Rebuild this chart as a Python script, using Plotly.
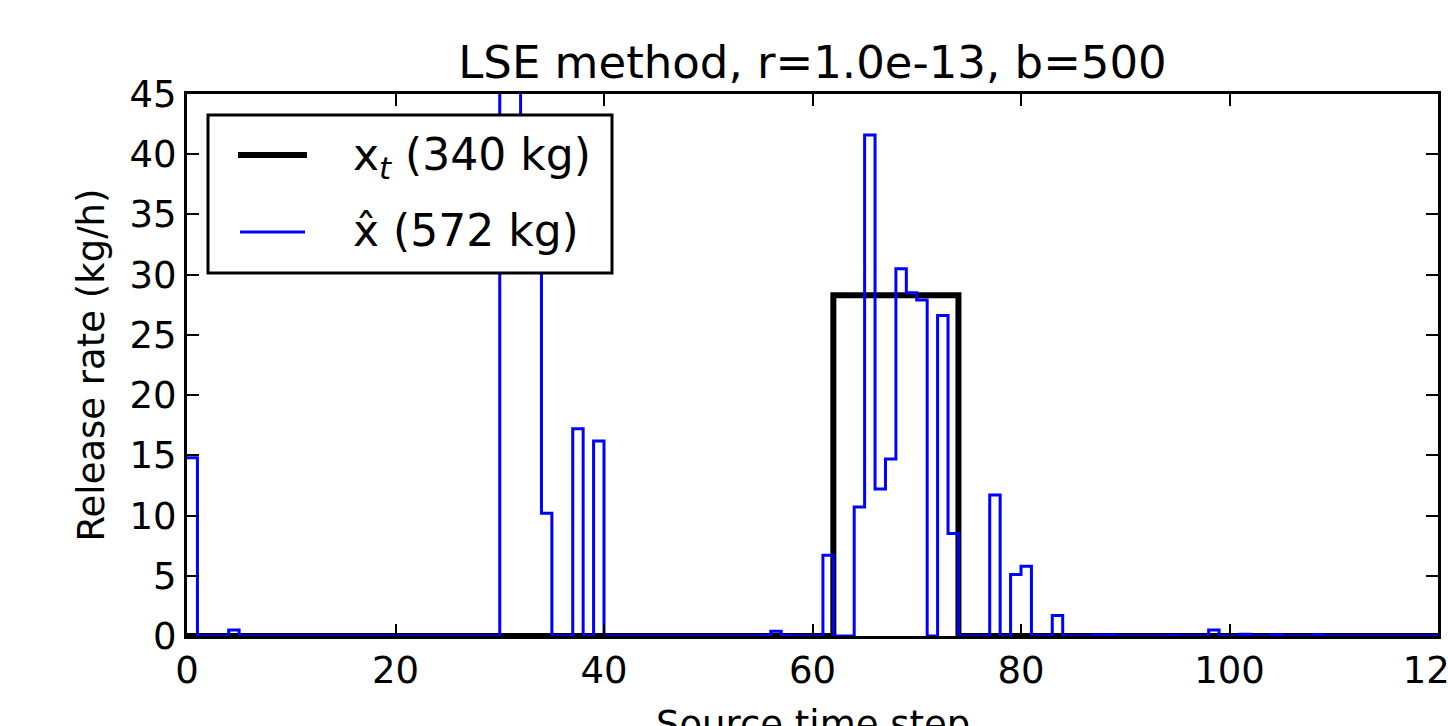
import plotly.graph_objects as go

# ---------------- data ----------------
steps = list(range(121))  # source time step edges 0..120

# true release x_t (kg/h), per time step 0..119
x_true = [0.0] * 62 + [28.3] * 12 + [0.0] * 46

# estimated release x-hat (kg/h), per time step 0..119
x_hat = [
    14.8, 0, 0, 0, 0.5, 0, 0, 0, 0, 0,            # 0-9
    0, 0, 0, 0, 0, 0, 0, 0, 0, 0,                 # 10-19
    0, 0, 0, 0, 0, 0, 0, 0, 0, 0,                 # 20-29
    102.7, 102.7, 37.0, 37.0, 10.2, 0, 0, 17.2, 0, 16.2,   # 30-39
    0, 0, 0, 0, 0, 0, 0, 0, 0, 0,                 # 40-49
    0, 0, 0, 0, 0, 0.05, 0.4, 0.05, 0, 0,         # 50-59
    0, 6.7, 0, 0, 10.7, 41.6, 12.2, 14.7, 30.5, 28.5,      # 60-69
    27.9, 0, 26.6, 8.5, 0, 0, 0, 11.7, 0, 5.1,    # 70-79
    5.8, 0, 0, 1.7, 0, 0, 0, 0.08, 0.08, 0,       # 80-89
    0, 0, 0, 0, 0.05, 0, 0, 0, 0.5, 0,            # 90-99
    0, 0.15, 0, 0, 0.1, 0, 0, 0, 0.1, 0,          # 100-109
    0, 0, 0, 0, 0, 0, 0, 0, 0, 0,                 # 110-119
]

title_text = "LSE method, r=1.0e-13, b=500"
x_title = "Source time step"
y_title = "Release rate (kg/h)"
legend_labels = ["x<sub><i>t</i></sub> (340 kg)", "x\u0302 (572 kg)"]
x_ticks = [0, 20, 40, 60, 80, 100, 120]
y_ticks = [0, 5, 10, 15, 20, 25, 30, 35, 40, 45]

# ---------------- layout geometry (pixels) ----------------
W, H = 1448, 726
L, R, T, B = 187, 1438, 94, 636
FONT = "DejaVu Sans"


def px(xp):
    return (xp - L) / (R - L)


def py(yp):
    return (B - yp) / (B - T)


fig = go.Figure()
fig.add_trace(go.Scatter(
    x=steps, y=x_true + [x_true[-1]], mode="lines",
    line=dict(color="black", width=6, shape="hv"),
    showlegend=False, hoverinfo="skip"))
fig.add_trace(go.Scatter(
    x=steps, y=x_hat + [x_hat[-1]], mode="lines",
    line=dict(color="#0000ff", width=3, shape="hv"),
    showlegend=False, hoverinfo="skip"))

axis_common = dict(
    showline=True, linewidth=3, linecolor="black", mirror="ticks",
    ticks="inside", ticklen=12, tickwidth=1.5, tickcolor="black",
    showgrid=False, zeroline=False, ticklabeloverflow="allow",
    tickfont=dict(family=FONT, size=37, color="black"),
)

fig.update_xaxes(range=[0, 120], tickmode="array", tickvals=x_ticks, **axis_common)
fig.update_yaxes(
    range=[0, 45], tickmode="array", tickvals=y_ticks,
    title=dict(text=y_title, font=dict(family=FONT, size=37, color="black"), standoff=14),
    **axis_common)

# manual legend (matplotlib style box)
shapes = [
    dict(type="rect", xref="paper", yref="paper",
         x0=px(208), x1=px(612), y0=py(273), y1=py(115),
         fillcolor="white", line=dict(color="black", width=3), layer="above"),
    dict(type="line", xref="paper", yref="paper",
         x0=px(238), x1=px(307), y0=py(155), y1=py(155),
         line=dict(color="black", width=6), layer="above"),
    dict(type="line", xref="paper", yref="paper",
         x0=px(240), x1=px(305), y0=py(232), y1=py(232),
         line=dict(color="#0000ff", width=3), layer="above"),
]
annotations = [
    dict(xref="paper", yref="paper", x=px(351), y=py(157), xanchor="left", yanchor="middle",
         text=legend_labels[0], showarrow=False, font=dict(family=FONT, size=44, color="black")),
    dict(xref="paper", yref="paper", x=px(351), y=py(230), xanchor="left", yanchor="middle",
         text=legend_labels[1], showarrow=False, font=dict(family=FONT, size=44, color="black")),
    # x-axis title (partially cut off at the bottom edge, as in the reference)
    dict(xref="paper", yref="paper", x=0.5, y=py(724), xanchor="center", yanchor="middle",
         text=x_title, showarrow=False, font=dict(family=FONT, size=37, color="black")),
]

fig.update_layout(
    width=W, height=H,
    margin=dict(l=L, r=W - R, t=T, b=H - B, autoexpand=False),
    paper_bgcolor="white", plot_bgcolor="white",
    title=dict(text=title_text, x=(L + R) / 2 / W, xref="container",
               xanchor="center", y=1 - 62 / H, yref="container", yanchor="middle",
               font=dict(family=FONT, size=45, color="black")),
    shapes=shapes, annotations=annotations,
    showlegend=False,
)

fig.write_html("out.html")
